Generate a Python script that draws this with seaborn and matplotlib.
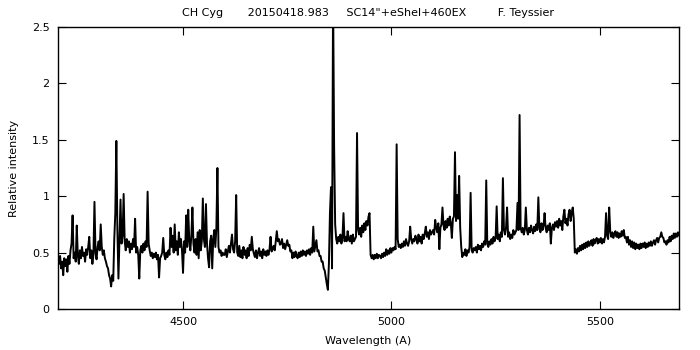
import numpy as np
import pandas as pd
import matplotlib
matplotlib.use("Agg")
import matplotlib.pyplot as plt
import seaborn as sns

intensity = [
    # 4200-4297.5
    0.45, 0.40, 0.47, 0.36, 0.42, 0.30, 0.45, 0.38, 0.44, 0.33, 0.47, 0.40, 0.52, 0.58, 0.83, 0.45, 0.50, 0.42, 0.74, 0.48,
    0.40, 0.52, 0.45, 0.55, 0.47, 0.50, 0.42, 0.53, 0.48, 0.55, 0.64, 0.45, 0.52, 0.40, 0.48, 0.95, 0.50, 0.44, 0.55, 0.60,
    # 4300-4397.5
    0.52, 0.75, 0.55, 0.48, 0.52, 0.45, 0.42, 0.38, 0.36, 0.30, 0.27, 0.20, 0.30, 0.25, 0.62, 0.85, 1.49, 0.70, 0.27, 0.62,
    0.97, 0.58, 0.65, 1.02, 0.60, 0.52, 0.62, 0.55, 0.60, 0.50, 0.58, 0.53, 0.62, 0.55, 0.80, 0.50, 0.55, 0.48, 0.27, 0.52,
    # 4400-4497.5
    0.56, 0.50, 0.58, 0.52, 0.60, 0.55, 1.04, 0.58, 0.52, 0.47, 0.50, 0.45, 0.49, 0.46, 0.50, 0.44, 0.48, 0.28, 0.45, 0.47,
    0.50, 0.63, 0.48, 0.44, 0.50, 0.46, 0.52, 0.48, 0.72, 0.55, 0.65, 0.50, 0.75, 0.52, 0.60, 0.48, 0.68, 0.55, 0.62, 0.52,
    # 4500-4597.5
    0.32, 0.60, 0.50, 0.83, 0.55, 0.88, 0.60, 0.52, 0.65, 0.90, 0.58, 0.50, 0.62, 0.48, 0.68, 0.45, 0.70, 0.52, 0.60, 0.98,
    0.62, 0.55, 0.93, 0.58, 0.45, 0.37, 0.60, 0.65, 0.36, 0.62, 0.70, 0.55, 0.72, 1.25, 0.55, 0.50, 0.52, 0.47, 0.50, 0.48,
    # 4600-4697.5
    0.48, 0.53, 0.46, 0.51, 0.56, 0.50, 0.58, 0.66, 0.53, 0.50, 0.60, 1.01, 0.50, 0.47, 0.56, 0.46, 0.52, 0.45, 0.55, 0.48,
    0.52, 0.45, 0.54, 0.47, 0.57, 0.52, 0.64, 0.53, 0.49, 0.46, 0.52, 0.45, 0.50, 0.54, 0.47, 0.51, 0.45, 0.53, 0.48, 0.51,
    # 4700-4797.5
    0.47, 0.52, 0.48, 0.53, 0.64, 0.51, 0.53, 0.56, 0.52, 0.60, 0.69, 0.60, 0.62, 0.57, 0.58, 0.62, 0.54, 0.58, 0.53, 0.57,
    0.61, 0.56, 0.57, 0.51, 0.52, 0.45, 0.50, 0.46, 0.51, 0.47, 0.45, 0.50, 0.46, 0.51, 0.47, 0.52, 0.48, 0.51, 0.47, 0.52,
    # 4800-4897.5
    0.49, 0.53, 0.48, 0.54, 0.50, 0.73, 0.51, 0.56, 0.61, 0.51, 0.52, 0.47, 0.47, 0.42, 0.42, 0.36, 0.34, 0.28, 0.22, 0.17,
    0.40, 0.85, 1.08, 0.36, 2.80, 1.44, 0.75, 0.62, 0.58, 0.64, 0.60, 0.66, 0.58, 0.63, 0.85, 0.60, 0.64, 0.60, 0.69, 0.62,
    # 4900-4997.5
    0.60, 0.65, 0.58, 0.66, 0.60, 0.62, 0.64, 1.56, 0.70, 0.66, 0.72, 0.64, 0.74, 0.68, 0.76, 0.70, 0.78, 0.74, 0.82, 0.85,
    0.48, 0.45, 0.48, 0.44, 0.48, 0.45, 0.49, 0.45, 0.48, 0.47, 0.45, 0.49, 0.46, 0.50, 0.47, 0.53, 0.48, 0.52, 0.49, 0.54,
    # 5000-5097.5
    0.50, 0.54, 0.52, 0.55, 0.53, 1.46, 0.62, 0.55, 0.57, 0.54, 0.58, 0.55, 0.60, 0.56, 0.62, 0.58, 0.56, 0.60, 0.73, 0.62,
    0.58, 0.62, 0.60, 0.65, 0.62, 0.58, 0.66, 0.60, 0.64, 0.58, 0.66, 0.62, 0.67, 0.73, 0.64, 0.68, 0.62, 0.70, 0.66, 0.68,
    # 5100-5197.5
    0.70, 0.66, 0.79, 0.72, 0.68, 0.76, 0.53, 0.72, 0.75, 0.90, 0.74, 0.70, 0.78, 0.72, 0.80, 0.74, 0.82, 0.76, 0.63, 0.80,
    0.82, 1.39, 0.78, 1.01, 0.80, 1.18, 0.72, 0.55, 0.46, 0.50, 0.48, 0.53, 0.47, 0.52, 0.50, 0.55, 1.03, 0.52, 0.50, 0.54,
    # 5200-5297.5
    0.52, 0.55, 0.50, 0.57, 0.53, 0.56, 0.52, 0.58, 0.55, 0.60, 0.57, 1.14, 0.58, 0.55, 0.60, 0.57, 0.62, 0.58, 0.64, 0.60,
    0.63, 0.91, 0.62, 0.66, 0.60, 0.68, 0.64, 1.16, 0.70, 0.66, 0.72, 0.90, 0.64, 0.68, 0.62, 0.66, 0.63, 0.70, 0.66, 0.68,
    # 5300-5397.5
    0.70, 0.94, 0.70, 1.72, 0.72, 0.68, 0.72, 0.66, 0.70, 0.90, 0.70, 0.66, 0.72, 0.68, 0.74, 0.70, 0.67, 0.73, 0.69, 0.75,
    0.70, 0.99, 0.72, 0.68, 0.76, 0.70, 0.74, 0.85, 0.72, 0.68, 0.74, 0.70, 0.76, 0.58, 0.72, 0.75, 0.70, 0.77, 0.73, 0.78,
    # 5400-5497.5
    0.72, 0.80, 0.74, 0.78, 0.70, 0.82, 0.88, 0.76, 0.80, 0.74, 0.84, 0.88, 0.78, 0.85, 0.90, 0.80, 0.50, 0.53, 0.49, 0.54,
    0.51, 0.56, 0.52, 0.57, 0.53, 0.58, 0.54, 0.59, 0.55, 0.60, 0.56, 0.59, 0.61, 0.56, 0.62, 0.58, 0.61, 0.63, 0.58, 0.62,
    # 5500-5597.5
    0.59, 0.63, 0.58, 0.62, 0.59, 0.64, 0.85, 0.65, 0.62, 0.90, 0.69, 0.64, 0.68, 0.63, 0.67, 0.69, 0.64, 0.68, 0.63, 0.67,
    0.64, 0.69, 0.65, 0.70, 0.63, 0.64, 0.59, 0.64, 0.57, 0.61, 0.55, 0.60, 0.54, 0.59, 0.53, 0.58, 0.54, 0.57, 0.53, 0.58,
    # 5600-5690
    0.54, 0.58, 0.55, 0.59, 0.54, 0.58, 0.55, 0.59, 0.56, 0.60, 0.56, 0.59, 0.61, 0.57, 0.61, 0.63, 0.59, 0.63, 0.64, 0.68,
    0.64, 0.63, 0.59, 0.60, 0.57, 0.61, 0.59, 0.64, 0.60, 0.65, 0.62, 0.67, 0.63, 0.67, 0.64, 0.68, 0.65,
]
start_wavelength = 4200
step = 2.5
wavelength = start_wavelength + step * np.arange(len(intensity))

x_ticks = [4500, 5000, 5500]
y_ticks = [0, 0.5, 1, 1.5, 2, 2.5]
y_tick_labels = ["0", "0.5", "1", "1.5", "2", "2.5"]
title = 'CH Cyg       20150418.983     SC14"+eShel+460EX         F. Teyssier'

df = pd.DataFrame({"Wavelength": wavelength, "Intensity": intensity})

sns.set_style("ticks")
plt.rcParams["font.family"] = ["DejaVu Sans"]
plt.rcParams["font.size"] = 8
plt.rcParams["text.color"] = "black"
plt.rcParams["axes.labelcolor"] = "black"

fig = plt.figure(figsize=(7, 3.5), dpi=100)
ax = fig.add_axes([58 / 700, 41 / 350, 621 / 700, 282 / 350])

sns.lineplot(data=df, x="Wavelength", y="Intensity", ax=ax, color="black",
             linewidth=1.4, estimator=None, sort=False)

ax.set_xlim(4200, 5690)
ax.set_ylim(0, 2.5)
ax.set_xticks(x_ticks)
ax.set_xticklabels([str(t) for t in x_ticks])
ax.set_yticks(y_ticks)
ax.set_yticklabels(y_tick_labels)
ax.tick_params(direction="in", length=6, width=0.8, top=True, right=True,
               labelsize=8, colors="black", pad=6)
for s in ax.spines.values():
    s.set_visible(True)
    s.set_linewidth(1.0)
    s.set_color("black")

ax.set_xlabel("Wavelength (A)", fontsize=8, labelpad=6, color="black")
ax.set_ylabel("Relative intensity", fontsize=8, labelpad=9, color="black")
fig.text(368 / 700, 1 - 13 / 350, title, ha="center", va="center", fontsize=8, color="black")

fig.savefig("out.png", dpi=100, facecolor="white")
